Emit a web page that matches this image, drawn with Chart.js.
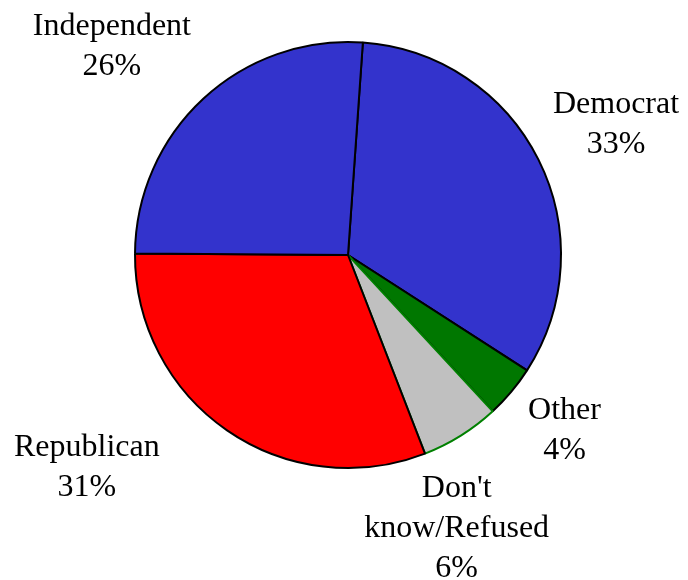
<!DOCTYPE html>
<html>
<head>
<meta charset="utf-8">
<script src="https://cdn.jsdelivr.net/npm/chart.js@4"></script>
<style>
    html, body { margin: 0; padding: 0; background: #fff; }
    #wrap { width: 688px; height: 580px; }
</style>
</head>
<body>
<div id="wrap"><canvas id="party_pie"></canvas></div>
<script>
const parties = ['Democrat', 'Other', "Don't know/Refused", 'Republican', 'Independent'];
const shares = [33, 4, 6, 31, 26];
const labelLines = [['Democrat'], ['Other'], ["Don't", 'know/Refused'], ['Republican'], ['Independent']];

const fills = ['#3333cc', '#007700', '#c0c0c0', '#ff0000', '#3333cc'];
const edges = ['#000000', '#000000', '#008000', '#000000', '#000000'];

// where each label sits: angle shift (deg) from the slice middle, distance in radii
const labelPlace = [
    { shift: 0.6, dist: 1.40 },
    { shift: -0.9, dist: 1.31 },
    { shift: 10.3, dist: 1.38 },
    { shift: 16.3, dist: 1.58 },
    { shift: -5.7, dist: 1.48 }
];

const sliceLabels = {
    id: 'sliceLabels',
    afterDatasetsDraw(chart) {
        const ctx = chart.ctx;
        const arcs = chart.getDatasetMeta(0).data;
        ctx.save();
        ctx.font = '32px "Liberation Serif", "Times New Roman", serif';
        ctx.fillStyle = '#000';
        ctx.textAlign = 'center';
        ctx.textBaseline = 'middle';
        const lineH = 40;
        arcs.forEach(function(arc, i) {
            const p = arc.getProps(['x', 'y', 'startAngle', 'endAngle', 'outerRadius'], true);
            const mid = (p.startAngle + p.endAngle) / 2 + labelPlace[i].shift * Math.PI / 180;
            const cx = p.x + Math.cos(mid) * p.outerRadius * labelPlace[i].dist;
            const cy = p.y + Math.sin(mid) * p.outerRadius * labelPlace[i].dist;
            const lines = labelLines[i].concat([shares[i] + '%']);
            const top = cy - (lines.length - 1) * lineH / 2;
            lines.forEach(function(t, k) {
                ctx.fillText(t, cx, top + k * lineH);
            });
        });
        ctx.restore();
    }
};

new Chart(document.getElementById('party_pie'), {
    type: 'pie',
    data: {
        labels: parties,
        datasets: [{
            data: shares,
            backgroundColor: fills,
            borderColor: edges,
            borderWidth: 2
        }]
    },
    options: {
        responsive: true,
        maintainAspectRatio: false,
        animation: false,
        rotation: 4,
        layout: {
            padding: { top: 41, bottom: 111, left: 134, right: 126 }
        },
        plugins: {
            legend: { display: false },
            tooltip: { enabled: false }
        }
    },
    plugins: [sliceLabels]
});
</script>
</body>
</html>
